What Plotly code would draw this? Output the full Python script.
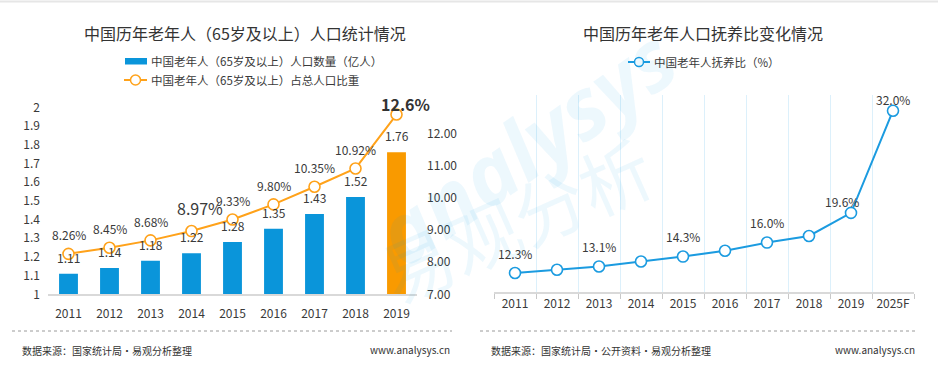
import plotly.graph_objects as go

# ---------------- data ----------------
years_left = ["2011", "2012", "2013", "2014", "2015", "2016", "2017", "2018", "2019"]
elderly_pop = [1.11, 1.14, 1.18, 1.22, 1.28, 1.35, 1.43, 1.52, 1.76]          # 亿人
elderly_share = [8.26, 8.45, 8.68, 8.97, 9.33, 9.80, 10.35, 10.92, 12.6]      # %
share_labels = ["8.26%", "8.45%", "8.68%", "8.97%", "9.33%", "9.80%", "10.35%", "10.92%", "12.6%"]
left_ytick_vals = [1, 1.1, 1.2, 1.3, 1.4, 1.5, 1.6, 1.7, 1.8, 1.9, 2]
left_ytick_text = ["1", "1.1", "1.2", "1.3", "1.4", "1.5", "1.6", "1.7", "1.8", "1.9", "2"]
right_ytick_vals = [7, 8, 9, 10, 11, 12]

years_right = ["2011", "2012", "2013", "2014", "2015", "2016", "2017", "2018", "2019", "2025F"]
dependency = [12.3, 12.7, 13.1, 13.7, 14.3, 15.0, 16.0, 16.8, 19.6, 32.0]   # %
dependency_labels = ["12.3%", "", "13.1%", "", "14.3%", "", "16.0%", "", "19.6%", "32.0%"]

# ---------------- styles ----------------
W, H = 938, 372
FONT = "Microsoft YaHei, Noto Sans CJK SC, sans-serif"
TXT = "#3a3a3a"
BLUE = "#0A95DA"
ORANGE_BAR = "#F99A00"
ORANGE_LINE = "#FFA21A"
BLUE_LINE = "#1B9BE0"


def px(x):
    return x / W


def py(y):
    return 1 - y / H


fig = go.Figure()

bar_colors = [BLUE] * (len(years_left) - 1) + [ORANGE_BAR]
fig.add_trace(go.Bar(
    x=years_left, y=elderly_pop, marker=dict(color=bar_colors, line=dict(width=0)),
    xaxis="x", yaxis="y", showlegend=False, hoverinfo="x+y",
))
fig.add_trace(go.Scatter(
    x=years_left, y=elderly_share, mode="lines+markers",
    line=dict(color=ORANGE_LINE, width=2),
    marker=dict(symbol="circle", size=11, color="white", line=dict(color=ORANGE_LINE, width=1.6)),
    xaxis="x", yaxis="y2", showlegend=False, cliponaxis=False,
))
fig.add_trace(go.Scatter(
    x=years_right, y=dependency, mode="lines+markers",
    line=dict(color=BLUE_LINE, width=2),
    marker=dict(symbol="circle", size=11, color="white", line=dict(color=BLUE_LINE, width=1.6)),
    xaxis="x2", yaxis="y3", showlegend=False, cliponaxis=False,
))

annotations = []

# watermark
annotations.append(dict(text="<b><i>analysys</i></b>", xref="paper", yref="paper",
                        x=px(525), y=py(145), showarrow=False, textangle=-35,
                        font=dict(family="Open Sans, sans-serif", size=84, color="rgba(0,150,225,0.07)")))
annotations.append(dict(text="易观分析", xref="paper", yref="paper",
                        x=px(515), y=py(218), showarrow=False, textangle=-24,
                        font=dict(family=FONT, size=72, color="rgba(0,150,225,0.07)")))

# titles
annotations.append(dict(text="中国历年老年人（65岁及以上）人口统计情况", xref="paper", yref="paper",
                        x=px(245), y=py(33), showarrow=False, xanchor="center", yanchor="middle",
                        font=dict(family=FONT, size=16, color="#333333")))
annotations.append(dict(text="中国历年老年人口抚养比变化情况", xref="paper", yref="paper",
                        x=px(703), y=py(33), showarrow=False, xanchor="center", yanchor="middle",
                        font=dict(family=FONT, size=16, color="#333333")))

# legends (manual)
annotations.append(dict(text="中国老年人（65岁及以上）人口数量（亿人）", xref="paper", yref="paper",
                        x=px(149), y=py(61), showarrow=False, xanchor="left", yanchor="middle",
                        font=dict(family=FONT, size=11.5, color=TXT)))
annotations.append(dict(text="中国老年人（65岁及以上）占总人口比重", xref="paper", yref="paper",
                        x=px(149), y=py(80), showarrow=False, xanchor="left", yanchor="middle",
                        font=dict(family=FONT, size=11.5, color=TXT)))
annotations.append(dict(text="中国老年人抚养比（%）", xref="paper", yref="paper",
                        x=px(652), y=py(62), showarrow=False, xanchor="left", yanchor="middle",
                        font=dict(family=FONT, size=11.5, color=TXT)))

# bar value labels (x given as category index)
for i, v in enumerate(elderly_pop):
    annotations.append(dict(text=f"{v:.2f}", x=i, y=v, xref="x", yref="y", showarrow=False,
                            yanchor="bottom", yshift=6,
                            font=dict(family=FONT, size=12, color=TXT)))

# share labels
for i, (v, lab) in enumerate(zip(elderly_share, share_labels)):
    if lab == "8.97%":
        annotations.append(dict(text=lab, x=i, y=v, xref="x", yref="y2", showarrow=True,
                                ax=8, ay=-23, arrowhead=0, arrowwidth=1, arrowcolor="#b5b5b5",
                                standoff=6, startstandoff=6,
                                font=dict(family=FONT, size=16, color=TXT)))
    elif lab == "12.6%":
        annotations.append(dict(text=f"<b>{lab}</b>", x=i, y=v, xref="x", yref="y2", showarrow=False,
                                yanchor="middle", yshift=11, xshift=9,
                                font=dict(family=FONT, size=16, color="#333333")))
    else:
        annotations.append(dict(text=lab, x=i, y=v, xref="x", yref="y2", showarrow=False,
                                yanchor="middle", yshift=19,
                                font=dict(family=FONT, size=12, color=TXT)))

# dependency labels
for i, (v, lab) in enumerate(zip(dependency, dependency_labels)):
    if not lab:
        continue
    if lab in ("19.6%", "32.0%"):
        xs = -9 if lab == "19.6%" else 0
        annotations.append(dict(text=lab, x=i, y=v, xref="x2", yref="y3", showarrow=False,
                                yanchor="middle", yshift=11, xshift=xs,
                                font=dict(family=FONT, size=12, color=TXT)))
    else:
        annotations.append(dict(text=lab, x=i, y=v, xref="x2", yref="y3", showarrow=False,
                                yanchor="middle", yshift=20,
                                font=dict(family=FONT, size=12, color=TXT)))

# footers
annotations += [
    dict(text="数据来源：国家统计局·易观分析整理", xref="paper", yref="paper", x=px(20), y=py(350),
         showarrow=False, xanchor="left", yanchor="middle", font=dict(family=FONT, size=10, color="#333333")),
    dict(text="www.analysys.cn", xref="paper", yref="paper", x=px(452), y=py(349),
         showarrow=False, xanchor="right", yanchor="middle", font=dict(family=FONT, size=10, color="#333333")),
    dict(text="数据来源：国家统计局·公开资料·易观分析整理", xref="paper", yref="paper", x=px(489), y=py(350),
         showarrow=False, xanchor="left", yanchor="middle", font=dict(family=FONT, size=10, color="#333333")),
    dict(text="www.analysys.cn", xref="paper", yref="paper", x=px(917), y=py(349),
         showarrow=False, xanchor="right", yanchor="middle", font=dict(family=FONT, size=10, color="#333333")),
]

shapes = [
    # top border line
    dict(type="line", xref="paper", yref="paper", x0=0, x1=1, y0=py(1.5), y1=py(1.5),
         line=dict(color="#E6E6E6", width=2)),
    # dotted separators
    dict(type="line", xref="paper", yref="paper", x0=px(12), x1=px(452), y0=py(331), y1=py(331),
         line=dict(color="#9a9a9a", width=1, dash="dot")),
    dict(type="line", xref="paper", yref="paper", x0=px(480), x1=px(917), y0=py(331), y1=py(331),
         line=dict(color="#9a9a9a", width=1, dash="dot")),
    # legend symbols
    dict(type="rect", xref="paper", yref="paper", x0=px(125), x1=px(147), y0=py(58), y1=py(64.5),
         fillcolor=BLUE, line=dict(width=0)),
    dict(type="line", xref="paper", yref="paper", x0=px(124), x1=px(147), y0=py(80), y1=py(80),
         line=dict(color=ORANGE_LINE, width=2)),
    dict(type="circle", xref="paper", yref="paper", x0=px(130.5), x1=px(140.5), y0=py(75), y1=py(85),
         fillcolor="white", line=dict(color=ORANGE_LINE, width=1.5)),
    dict(type="line", xref="paper", yref="paper", x0=px(628), x1=px(650), y0=py(62), y1=py(62),
         line=dict(color=BLUE_LINE, width=2)),
    dict(type="circle", xref="paper", yref="paper", x0=px(634.5), x1=px(643.5), y0=py(57.5), y1=py(66.5),
         fillcolor="white", line=dict(color=BLUE_LINE, width=1.5)),
]

axis_font = dict(family=FONT, size=12, color=TXT)

fig.update_layout(
    width=W, height=H,
    margin=dict(l=0, r=0, t=0, b=0, pad=0, autoexpand=False),
    paper_bgcolor="white", plot_bgcolor="rgba(0,0,0,0)",
    bargap=0.54,
    showlegend=False,
    annotations=annotations,
    shapes=shapes,
    xaxis=dict(domain=[px(48), px(417)], type="category", range=[-0.5, len(years_left) - 0.5],
               showgrid=False, zeroline=False, automargin=False, tickangle=0,
               showline=True, linecolor="#D9D9D9", linewidth=1.5, ticks="", tickfont=axis_font,
               ticklabelstandoff=8, anchor="y", fixedrange=True),
    yaxis=dict(domain=[py(294.3), py(107.3)], range=[1, 2], showgrid=False, zeroline=False,
               showline=False, tickvals=left_ytick_vals, ticktext=left_ytick_text, tickfont=axis_font,
               ticks="", ticklabelstandoff=7, anchor="x", fixedrange=True, automargin=False),
    yaxis2=dict(overlaying="y", side="right", anchor="x", range=[7, 7 + (294.3 - 107.3) / 32.1],
                showgrid=False, zeroline=False, showline=False, tickvals=right_ytick_vals,
                tickformat=".2f", ticksuffix="%", tickfont=axis_font, ticks="",
                ticklabelstandoff=9, fixedrange=True, automargin=False),
    xaxis2=dict(domain=[px(494), px(914)], type="category", range=[-0.5, len(years_right) - 0.5],
                anchor="y3", automargin=False, tickangle=0,
                showgrid=True, gridcolor="#DCF0FB", gridwidth=1, tickson="boundaries",
                ticks="outside", ticklen=5, tickcolor="#C8C8C8", zeroline=False,
                showline=True, linecolor="#D9D9D9", linewidth=1.5, tickfont=axis_font,
                fixedrange=True),
    yaxis3=dict(domain=[py(292), py(95)], range=[10, 10 + (292 - 95) / 8.24], anchor="x2",
                showgrid=False, zeroline=False, showline=False, showticklabels=False, ticks="",
                fixedrange=True, automargin=False),
    font=dict(family=FONT, color=TXT),
)

fig.write_html("out.html", config={"displayModeBar": False},
               post_script="document.body.style.margin='0px';")
